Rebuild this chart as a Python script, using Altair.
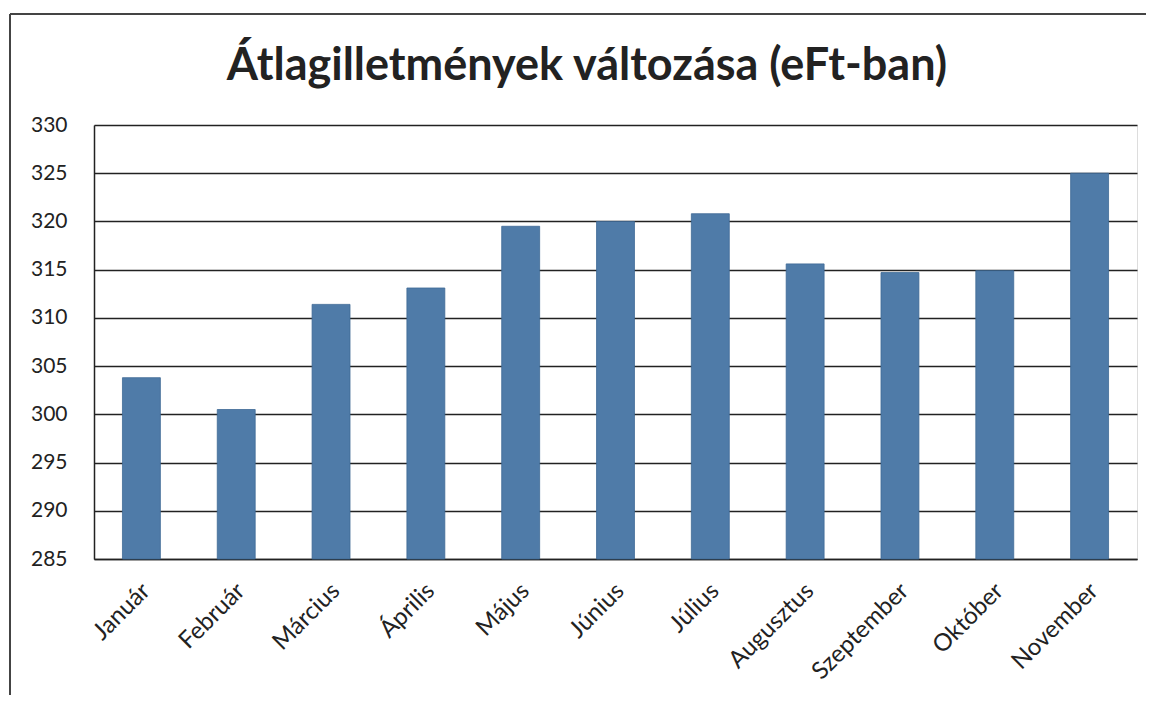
import altair as alt
import pandas as pd

months = ["Január", "Február", "Március", "Április", "Május", "Június",
          "Július", "Augusztus", "Szeptember", "Október", "November"]
values = [303.8, 300.5, 311.4, 313.1, 319.5, 320.0, 320.8, 315.6, 314.7, 314.9, 325.0]
y_ticks = [285, 290, 295, 300, 305, 310, 315, 320, 325, 330]
title_text = "Átlagilletmények változása (eFt-ban)"

df = pd.DataFrame({"month": months, "value": values})

FONT = "Lato"
W, H = 1043, 434
PL, PT = 86, 117

bars = alt.Chart(df).mark_bar(color="#4F7BA8", stroke="#3f6a96", strokeWidth=0.8).encode(
    x=alt.X("month:N", sort=months, title=None,
            scale=alt.Scale(paddingInner=0.6, paddingOuter=0.3),
            axis=alt.Axis(labelAngle=-45, labelAlign="right", labelBaseline="middle",
                          labelFontSize=24, labelFont=FONT, labelColor="#222222",
                          labelPadding=28, labelOffset=5, ticks=False, domain=True,
                          domainColor="#222222", domainWidth=1.5, grid=False)),
    y=alt.Y("value:Q", title=None,
            scale=alt.Scale(domain=[285, 330], nice=False, zero=False, clamp=True),
            axis=alt.Axis(values=y_ticks, labelFontSize=21, labelFont=FONT,
                          labelColor="#222222", labelPadding=27, ticks=False,
                          domain=True, domainColor="#222222", domainWidth=1.5,
                          grid=True, gridColor="#222222", gridWidth=1.3)),
)

frame = alt.Chart(df).mark_rule(color="#444444", strokeWidth=1.5).encode(
    x=alt.value(-PL + 2), x2=alt.value(W + 30), y=alt.value(-PT + 6)
) + alt.Chart(df).mark_rule(color="#444444", strokeWidth=1.5).encode(
    x=alt.value(-PL + 2), y=alt.value(-PT + 6), y2=alt.value(H + 200)
)

title = alt.Chart(pd.DataFrame({"t": [title_text]})).mark_text(
    font=FONT, fontSize=45, fontWeight="bold", color="#222222",
    align="center", baseline="alphabetic"
).encode(text="t:N", x=alt.value(587 - 94), y=alt.value(80 - 125))

chart = (bars + frame + title).properties(
    width=W, height=H,
    autosize=alt.AutoSizeParams(type="none"),
    padding={"left": PL, "top": PT, "right": 9, "bottom": 136},
).configure_view(stroke=None).configure(background="white")

chart.save("out.html", embed_options={"renderer": "svg", "actions": False})
